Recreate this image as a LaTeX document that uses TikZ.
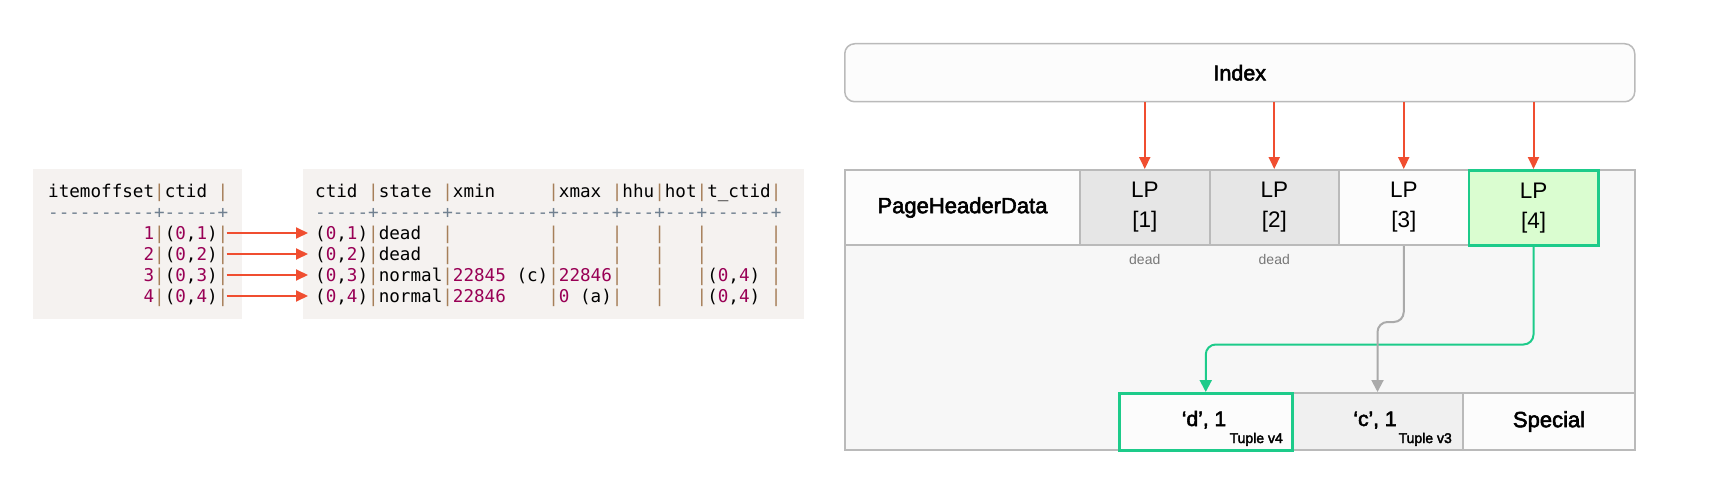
\documentclass[tikz,border=0pt]{standalone}
\usepackage{fontspec}
\setmainfont{Liberation Sans}
\setmonofont{DejaVu Sans Mono}
\newfontfamily\medium[FakeBold=2.5]{Liberation Sans}
\usetikzlibrary{arrows.meta,calc}

\definecolor{codebg}{HTML}{F5F2F0}
\definecolor{numc}{HTML}{990055}
\definecolor{opc}{HTML}{A67F59}
\definecolor{dashc}{HTML}{708090}
\definecolor{arrred}{HTML}{F04E30}
\definecolor{gbord}{HTML}{BABABA}
\definecolor{pagebg}{HTML}{F7F7F7}
\definecolor{cellwhite}{HTML}{FCFCFC}
\definecolor{deadbg}{HTML}{E6E6E6}
\definecolor{greenb}{HTML}{1DCB8A}
\definecolor{greenbg}{HTML}{DAFDD0}
\definecolor{tuplebg}{HTML}{F0F0F0}
\definecolor{gconn}{HTML}{AAAAAA}
\definecolor{deadtxt}{HTML}{777777}

\newcommand\vb{\textcolor{opc}{|}}
\newcommand\nm[1]{\textcolor{numc}{#1}}
\newcommand\ds[1]{\textcolor{dashc}{#1}}
\newcommand\codefont{\ttfamily\fontsize{17.6}{21}\selectfont}
\newcommand\lpfont{\fontsize{22.5}{30}\selectfont}
\newcommand\bigmed{\medium\fontsize{22}{26}\selectfont}
\newcommand\smallmed{\medium\fontsize{14}{16}\selectfont}

\tikzset{
  codebox/.style={fill=codebg, inner sep=0pt, anchor=north west},
  codeline/.style={anchor=base west, inner sep=0pt, font=\codefont},
  cell/.style={draw=gbord, line width=2pt, inner sep=0pt, anchor=north west},
  lpcell/.style={cell, minimum width=129.5pt, minimum height=75pt, align=center, font=\lpfont},
  botcell/.style={cell, minimum height=57pt},
  greenedge/.style={draw=greenb, line width=2.5pt},
  redarr/.style={draw=arrred, line width=2pt, -{Triangle[length=12pt,width=11pt]}},
  grayconn/.style={draw=gconn, line width=2pt, rounded corners=10pt, -{Triangle[length=12pt,width=12pt]}},
  greenconn/.style={draw=greenb, line width=2pt, rounded corners=10pt, -{Triangle[length=12pt,width=12pt]}},
  deadlab/.style={font=\fontsize{14}{16}\selectfont, text=deadtxt, inner sep=0pt},
  tuplelab/.style={font=\smallmed, anchor=base east, inner sep=0pt},
}

\begin{document}
\begin{tikzpicture}[x=1pt,y=-1pt]
\useasboundingbox (0,0) rectangle (1720,500);
\fill[white] (0,0) rectangle (1720,500);

% ---------- left: code tables ----------
\node[codebox, minimum width=209pt, minimum height=150pt] (tab1) at (33,169) {};
\node[codebox, minimum width=501pt, minimum height=150pt] (tab2) at (303,169) {};

\node[codeline] (t1h) at (48,197) {itemoffset\vb ctid~\vb};
\node[codeline] (t1d) at (48,218) {\ds{----------+-----+}};
\node[codeline] (t1r1) at (48,239) {~~~~~~~~~\nm{1}\vb(\nm{0},\nm{1})\vb};
\node[codeline] (t1r2) at (48,260) {~~~~~~~~~\nm{2}\vb(\nm{0},\nm{2})\vb};
\node[codeline] (t1r3) at (48,281) {~~~~~~~~~\nm{3}\vb(\nm{0},\nm{3})\vb};
\node[codeline] (t1r4) at (48,302) {~~~~~~~~~\nm{4}\vb(\nm{0},\nm{4})\vb};

\node[codeline] (t2h) at (315,197) {ctid~\vb state~\vb xmin~~~~~\vb xmax~\vb hhu\vb hot\vb t\_ctid\vb};
\node[codeline] (t2d) at (315,218) {\ds{-----+------+---------+-----+---+---+------+}};
\node[codeline] (t2r1) at (315,239) {(\nm{0},\nm{1})\vb dead~~\vb~~~~~~~~~\vb~~~~~\vb~~~\vb~~~\vb~~~~~~\vb};
\node[codeline] (t2r2) at (315,260) {(\nm{0},\nm{2})\vb dead~~\vb~~~~~~~~~\vb~~~~~\vb~~~\vb~~~\vb~~~~~~\vb};
\node[codeline] (t2r3) at (315,281) {(\nm{0},\nm{3})\vb normal\vb\nm{22845}~(c)\vb\nm{22846}\vb~~~\vb~~~\vb(\nm{0},\nm{4})~\vb};
\node[codeline] (t2r4) at (315,302) {(\nm{0},\nm{4})\vb normal\vb\nm{22846}~~~~\vb\nm{0}~(a)\vb~~~\vb~~~\vb(\nm{0},\nm{4})~\vb};

\foreach \r in {1,2,3,4}{
  \draw[redarr] ($(t1r\r.base east)+(-2,-6)$) -- ($(t2r\r.base west)+(-7,-6)$);
}

% ---------- right: index and page ----------
\node[draw=gbord, line width=1.5pt, rounded corners=10pt, fill=cellwhite,
      minimum width=790pt, minimum height=58pt, anchor=north west,
      font=\medium\fontsize{21.5}{26}\selectfont] (index) at (844,43) {Index};

\node[draw=gbord, line width=2pt, fill=pagebg, inner sep=0pt, anchor=north west,
      minimum width=790pt, minimum height=280pt] (page) at (844,169) {};

\node[cell, fill=cellwhite, minimum width=235pt, minimum height=75pt, font=\bigmed] (phd) at (844,169) {PageHeaderData};
\node[lpcell, fill=deadbg] (lp1) at (1079,169) {LP\\{[1]}};
\node[lpcell, fill=deadbg] (lp2) at (1208.5,169) {LP\\{[2]}};
\node[lpcell, fill=cellwhite] (lp3) at (1338,169) {LP\\{[3]}};
\node[lpcell, fill=greenbg, greenedge] (lp4) at (1467.5,169) {LP\\{[4]}};

\node[deadlab] (dead1) at ($(lp1.south)+(0,13)$) {dead};
\node[deadlab] (dead2) at ($(lp2.south)+(0,13)$) {dead};

\foreach \c in {lp1,lp2,lp3,lp4}{
  \draw[redarr] (\c.north |- index.south) -- (\c.north);
}

% bottom row
\node[botcell, fill=tuplebg, minimum width=171pt] (cc) at (1291,392) {};
\node[botcell, fill=cellwhite, minimum width=172pt, font=\bigmed] (sc) at (1462,392) {Special};
\node[botcell, fill=cellwhite, greenedge, minimum width=173pt] (dc) at (1118,392) {};

\node[font=\medium\fontsize{21}{24}\selectfont, anchor=base, inner sep=0pt] (dtxt) at (1204,426) {‘d’, 1};
\node[font=\medium\fontsize{21}{24}\selectfont, anchor=base, inner sep=0pt] (ctxt) at (1375,426) {‘c’, 1};
\node[tuplelab] (dtup) at (1283,443) {Tuple v4};
\node[tuplelab] (ctup) at (1452,443) {Tuple v3};

% connectors
\draw[greenconn] (lp4.south) -- ++(0,98) -| (dc.north);
\draw[grayconn] (lp3.south) -- ++(0,76) -| (cc.north);

\end{tikzpicture}
\end{document}
